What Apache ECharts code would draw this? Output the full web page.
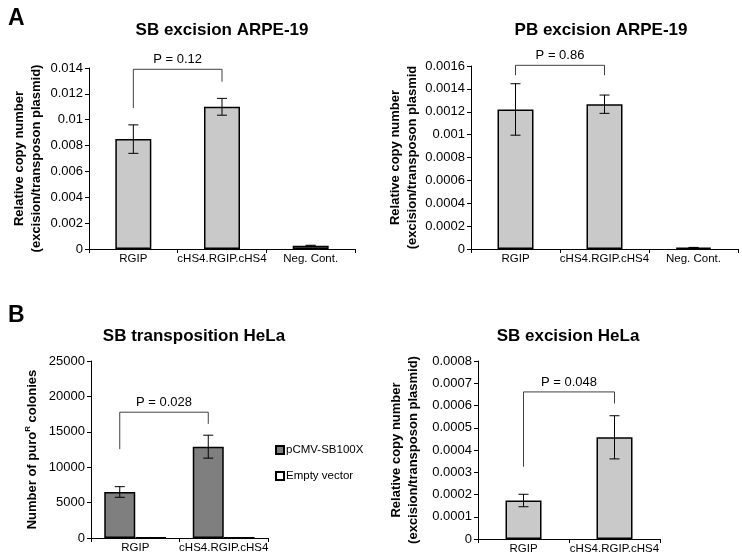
<!DOCTYPE html>
<html>
<head>
<meta charset="utf-8">
<script src="https://cdn.jsdelivr.net/npm/echarts@6/dist/echarts.min.js"></script>
<style>html,body{margin:0;padding:0;background:#fff}#c{width:742px;height:560px}</style>
</head>
<body>
<div id="c"></div>
<script>
// ---- Data ----
const catsA = ['RGIP', 'cHS4.RGIP.cHS4', 'Neg. Cont.'];
const catsB = ['RGIP', 'cHS4.RGIP.cHS4'];

const sbArpeVals = [0.0085, 0.0110, 0.00026];
const sbArpeErr  = [0.0011, 0.00065, 0.00003];

const pbArpeVals = [0.00122, 0.001266, 0.000012];
const pbArpeErr  = [0.000225, 0.00008, 0.000002];

const sbHelaTransVals  = [6500, 12900];
const sbHelaTransErr   = [750, 1620];
const sbHelaEmptyVals  = [60, 60];

const sbHelaExcVals = [0.000173, 0.000457];
const sbHelaExcErr  = [0.000028, 0.000097];

// brackets: [fromCat, toCat, topValue, leftLegEnd, rightLegEnd]
const bracketSbArpe = [0, 1, 0.0139, 0.01091, 0.01294];
const bracketPbArpe = [0, 1, 0.001606, 0.001519, 0.001519];
const bracketTrans  = [0, 1, 17770, 12550, 16120];
const bracketExc    = [0, 1, 0.000661, 0.000325, 0.000609];
const pLabels = ['P = 0.12', 'P = 0.86', 'P = 0.028', 'P = 0.048'];

const titles = ['SB excision ARPE-19', 'PB excision ARPE-19', 'SB transposition HeLa', 'SB excision HeLa'];

// ---- Styles ----
const FONT = 'Liberation Sans, Arial, sans-serif';
const lightGrey = '#c9c9c9';
const darkGrey = '#7f7f7f';

const chart = echarts.init(document.getElementById('c'));

function errSeries(gi, vals, errs, offset) {
  return {
    type: 'custom', xAxisIndex: gi, yAxisIndex: gi, z: 5, silent: true,
    data: vals.map((v, i) => [i, v, errs[i]]),
    encode: { x: 0, y: 1 },
    renderItem: function (params, api) {
      const x = api.value(0), y = api.value(1), e = api.value(2);
      const hi = api.coord([x, y + e]);
      const lo = api.coord([x, y - e]);
      const cx = hi[0] + offset;
      const cap = 5;
      const st = { stroke: '#000', lineWidth: 1 };
      return {
        type: 'group', children: [
          { type: 'line', shape: { x1: cx, y1: hi[1], x2: cx, y2: lo[1] }, style: st },
          { type: 'line', shape: { x1: cx - cap, y1: hi[1], x2: cx + cap, y2: hi[1] }, style: st },
          { type: 'line', shape: { x1: cx - cap, y1: lo[1], x2: cx + cap, y2: lo[1] }, style: st }
        ]
      };
    }
  };
}

function bracketSeries(gi, br, label, offset) {
  return {
    type: 'custom', xAxisIndex: gi, yAxisIndex: gi, z: 6, silent: true,
    data: [br],
    encode: { x: 0, y: 2 },
    renderItem: function (params, api) {
      const a = api.value(0), b = api.value(1);
      const top = api.value(2), le = api.value(3), re = api.value(4);
      const pL = api.coord([a, top]);
      const pR = api.coord([b, top]);
      const pLe = api.coord([a, le]);
      const pRe = api.coord([b, re]);
      const xl = pL[0] + offset, xr = pR[0] + offset;
      const st = { stroke: '#404040', lineWidth: 1, fill: null };
      return {
        type: 'group', children: [
          { type: 'polyline', shape: { points: [[xl, pLe[1]], [xl, pL[1]], [xr, pR[1]], [xr, pRe[1]]] }, style: st },
          { type: 'text', style: { text: label, x: (xl + xr) / 2, y: pL[1] - 3, align: 'center', verticalAlign: 'bottom',
            fontSize: 13, fontFamily: FONT, fill: '#000' } }
        ]
      };
    }
  };
}

const grids = [
  { left: 89, top: 68, width: 266, height: 181 },
  { left: 471, top: 66, width: 267, height: 183 },
  { left: 91, top: 361, width: 177, height: 177 },
  { left: 478, top: 361, width: 182, height: 178 }
];

function xAxis(gi, cats) {
  return {
    type: 'category', gridIndex: gi, data: cats,
    axisLine: { lineStyle: { color: '#000', width: 1 } },
    axisTick: { show: true, length: 4, lineStyle: { color: '#000' } },
    axisLabel: { color: '#000', fontSize: 11.5, fontFamily: FONT, margin: 4, interval: 0 }
  };
}
function yAxis(gi, max, interval, name, gap, fmt) {
  return {
    type: 'value', gridIndex: gi, min: 0, max: max, interval: interval,
    name: name, nameLocation: 'middle', nameRotate: 90, nameGap: gap,
    nameTextStyle: { color: '#000', fontSize: 13, fontWeight: 'bold', fontFamily: FONT, lineHeight: 17,
      rich: {
        a: { fontSize: 13, fontWeight: 'bold', fontFamily: FONT, color: '#000' },
        s: { fontSize: 8, fontWeight: 'bold', fontFamily: FONT, color: '#000', verticalAlign: 'top', lineHeight: 10 }
      } },
    splitLine: { show: false },
    axisLine: { show: true, lineStyle: { color: '#000', width: 1 } },
    axisTick: { show: true, length: 4, lineStyle: { color: '#000' } },
    axisLabel: { color: '#000', fontSize: 13, fontFamily: FONT, margin: 6, formatter: fmt }
  };
}
const fmtPlain = v => String(+v.toPrecision(6));

const barStyle = (c) => ({ color: c, borderColor: '#000', borderWidth: 1.5 });

const option = {
  animation: false,
  backgroundColor: '#fff',
  title: [
    { text: 'A', left: 3, top: 2, textStyle: { fontSize: 23, fontWeight: 'bold', fontFamily: FONT, color: '#000' } },
    { text: 'B', left: 3, top: 299, textStyle: { fontSize: 23, fontWeight: 'bold', fontFamily: FONT, color: '#000' } },
    { text: titles[0], left: 217, top: 17, textAlign: 'center', textStyle: { fontSize: 17, fontWeight: 'bold', fontFamily: FONT, color: '#000' } },
    { text: titles[1], left: 596, top: 17, textAlign: 'center', textStyle: { fontSize: 17, fontWeight: 'bold', fontFamily: FONT, color: '#000' } },
    { text: titles[2], left: 189, top: 323, textAlign: 'center', textStyle: { fontSize: 17, fontWeight: 'bold', fontFamily: FONT, color: '#000' } },
    { text: titles[3], left: 563, top: 323, textAlign: 'center', textStyle: { fontSize: 17, fontWeight: 'bold', fontFamily: FONT, color: '#000' } }
  ],
  legend: {
    data: ['pCMV-SB100X', 'Empty vector'],
    orient: 'vertical', left: 270, top: 439, itemWidth: 8, itemHeight: 8, itemGap: 14,
    icon: 'rect',
    textStyle: { fontSize: 11.5, fontFamily: FONT, color: '#000', padding: [0, 0, 0, -3] }
  },
  grid: grids,
  xAxis: [xAxis(0, catsA), xAxis(1, catsA), xAxis(2, catsB), xAxis(3, catsB)],
  yAxis: [
    yAxis(0, 0.014, 0.002, 'Relative copy number\n(excision/transposon plasmid)', 44, fmtPlain),
    yAxis(1, 0.0016, 0.0002, 'Relative copy number\n(excision/transposon plasmid', 50, fmtPlain),
    yAxis(2, 25000, 5000, '{a|Number of puro}{s|R}{a| colonies}', 50, fmtPlain),
    yAxis(3, 0.0008, 0.0001, 'Relative copy number\n(excision/transposon plasmid)', 56, fmtPlain)
  ],
  series: [
    { name: 'SB ARPE', type: 'bar', xAxisIndex: 0, yAxisIndex: 0, data: sbArpeVals, barWidth: 36, itemStyle: barStyle(lightGrey) },
    errSeries(0, sbArpeVals, sbArpeErr, 0),
    bracketSeries(0, bracketSbArpe, pLabels[0], 0),

    { name: 'PB ARPE', type: 'bar', xAxisIndex: 1, yAxisIndex: 1, data: pbArpeVals, barWidth: 36, itemStyle: barStyle(lightGrey) },
    errSeries(1, pbArpeVals, pbArpeErr, 0),
    bracketSeries(1, bracketPbArpe, pLabels[1], 0),

    { name: 'pCMV-SB100X', type: 'bar', xAxisIndex: 2, yAxisIndex: 2, data: sbHelaTransVals, barWidth: 31, barGap: '0%', itemStyle: barStyle(darkGrey) },
    { name: 'Empty vector', type: 'bar', xAxisIndex: 2, yAxisIndex: 2, data: sbHelaEmptyVals, barWidth: 31, barGap: '0%', itemStyle: barStyle('#fff') },
    errSeries(2, sbHelaTransVals, sbHelaTransErr, -15.5),
    bracketSeries(2, bracketTrans, pLabels[2], -15.5),

    { name: 'SB HeLa exc', type: 'bar', xAxisIndex: 3, yAxisIndex: 3, data: sbHelaExcVals, barWidth: 36, itemStyle: barStyle(lightGrey) },
    errSeries(3, sbHelaExcVals, sbHelaExcErr, 0),
    bracketSeries(3, bracketExc, pLabels[3], 0)
  ]
};
chart.setOption(option);
</script>
</body>
</html>
